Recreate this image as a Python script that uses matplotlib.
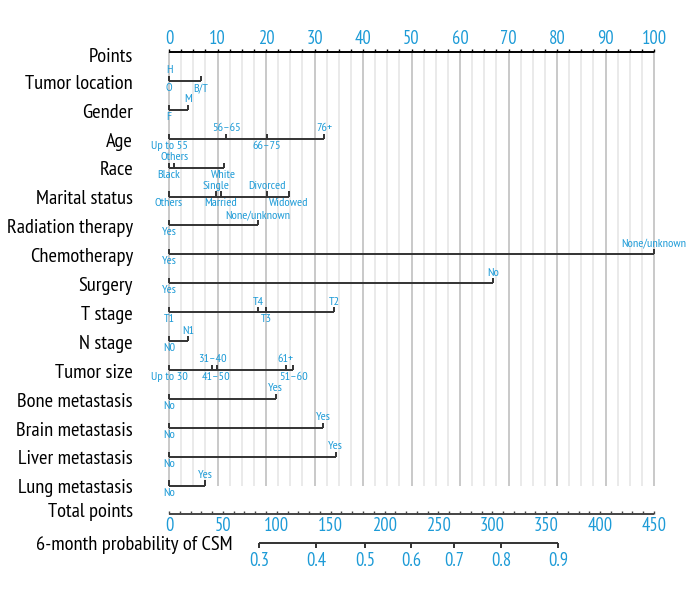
import numpy as np
import matplotlib.pyplot as plt
from matplotlib import font_manager as fm

# pick a condensed sans if one is installed
_names = {f.name for f in fm.fontManager.ttflist}
FONT = 'DejaVu Sans'
for cand in ['PT Sans Narrow', 'Fira Sans Condensed', 'Open Sans Condensed',
             'Roboto Condensed', 'Asap Condensed', 'Encode Sans Condensed',
             'Archivo Narrow', 'Liberation Sans Narrow']:
    if cand in _names:
        FONT = cand
        break
plt.rcParams['font.family'] = [FONT, 'DejaVu Sans']

# levels listed in order of increasing points
tumor_location = ['O', 'H', 'B/T']
tumor_location_pts = [0, 0, 6.6]
gender = ['F', 'M']
gender_pts = [0, 4.0]
age = ['Up to 55', '56\u201365', '66\u201375', '76+']
age_pts = [0, 11.8, 20.2, 32.0]
race = ['Black', 'Others', 'White']
race_pts = [0, 1.1, 11.3]
marital = ['Others', 'Single', 'Married', 'Divorced', 'Widowed']
marital_pts = [0, 9.7, 10.7, 20.2, 24.7]
radiation = ['Yes', 'None/unknown']
radiation_pts = [0, 18.4]
chemo = ['Yes', 'None/unknown']
chemo_pts = [0, 100]
surgery = ['Yes', 'No']
surgery_pts = [0, 66.8]
t_stage = ['T1', 'T4', 'T3', 'T2']
t_stage_pts = [0, 18.4, 20.0, 34.0]
n_stage = ['N0', 'N1']
n_stage_pts = [0, 3.9]
tumor_size = ['Up to 30', '31\u201340', '41\u201350', '61+', '51\u201360']
tumor_size_pts = [0, 8.9, 9.8, 24.1, 25.6]
bone = ['No', 'Yes']
bone_pts = [0, 22.0]
brain = ['No', 'Yes']
brain_pts = [0, 31.8]
liver = ['No', 'Yes']
liver_pts = [0, 34.4]
lung = ['No', 'Yes']
lung_pts = [0, 7.4]

total_ticks = [0, 50, 100, 150, 200, 250, 300, 350, 400, 450]
prob_labels = ['0.3', '0.4', '0.5', '0.6', '0.7', '0.8', '0.9']
prob_total = [83.5, 136.4, 181.9, 224.5, 264.4, 308.0, 361.0]

rows = [
    ('Tumor location', tumor_location, tumor_location_pts),
    ('Gender', gender, gender_pts),
    ('Age', age, age_pts),
    ('Race', race, race_pts),
    ('Marital status', marital, marital_pts),
    ('Radiation therapy', radiation, radiation_pts),
    ('Chemotherapy', chemo, chemo_pts),
    ('Surgery', surgery, surgery_pts),
    ('T stage', t_stage, t_stage_pts),
    ('N stage', n_stage, n_stage_pts),
    ('Tumor size', tumor_size, tumor_size_pts),
    ('Bone metastasis', bone, bone_pts),
    ('Brain metastasis', brain, brain_pts),
    ('Liver metastasis', liver, liver_pts),
    ('Lung metastasis', lung, lung_pts),
]

blue = '#1d9bd7'
dark = '#333333'
PX_X = 4.85   # pixels per point
PX_Y = 28.9   # pixels per row
px = 1 / PX_Y

fig = plt.figure(figsize=(7, 6), dpi=100)
renderer = fig.canvas.get_renderer()


def fit_size(s, width_px, base=10.0):
    t = fig.text(0, 0, s, fontsize=base)
    w = t.get_window_extent(renderer).width
    t.remove()
    return base * width_px / w


fs_name = min(fit_size('Radiation therapy', 126), 15.5)
fs_tick = min(fit_size('100', 25), 13.5)
fs_lev = min(fit_size('None/unknown', 65), 9)

ax = fig.add_axes([0, 0, 1, 1])
ax.set_xlim(-169 / PX_X, (700 - 169) / PX_X)
ax.set_ylim((600 - 52) / PX_Y, -52 / PX_Y)
ax.axis('off')

n_last = len(rows)
label_x = -36 / PX_X

# grid
for g in np.arange(0, 100.01, 2.5):
    major = abs(g % 10) < 1e-9
    ax.vlines(g, 0, n_last + 0.03, color='#c0c0c0' if major else '#e6e6e6',
              lw=1.2, zorder=0)

# points axis
ax.hlines(0, 0, 100, color='black', lw=1.4)
for t in np.arange(0, 100.01, 2.5):
    ax.vlines(t, 0, -3 * px, color='black', lw=1)
for t in range(0, 101, 10):
    ax.text(t, -13 * px, str(t), color=blue, fontsize=fs_tick, ha='center', va='center')
ax.text(label_x, 0.16, 'Points', fontsize=fs_name, ha='right', va='center')

# variable axes
for i, (name, levels, pts) in enumerate(rows, start=1):
    ax.hlines(i, 0, max(pts), color=dark, lw=1.4)
    for k, (lev, p) in enumerate(zip(levels, pts)):
        ax.vlines(p, i, i - 5 * px, color=dark, lw=1.4)
        if k % 2 == 0:
            ax.text(p, i + 2 * px, lev, color=blue, fontsize=fs_lev, ha='center', va='top')
        else:
            ax.text(p, i - 5.5 * px, lev, color=blue, fontsize=fs_lev, ha='center', va='bottom')
    ax.text(label_x, i + 0.1, name, fontsize=fs_name, ha='right', va='center')

# total points axis
r_tot = n_last + 1
ax.hlines(r_tot, 0, 100, color='#444444', lw=1.4)
for t in range(0, 451, 10):
    ax.vlines(t / 4.5, r_tot, r_tot - 3 * px, color='#444444', lw=1)
for t in total_ticks:
    ax.text(t / 4.5, r_tot + 12 * px, str(t), color=blue, fontsize=fs_tick,
            ha='center', va='center')
ax.text(label_x, r_tot - 0.07, 'Total points', fontsize=fs_name, ha='right', va='center')

# probability axis
r_prob = n_last + 2
ax.hlines(r_prob, prob_total[0] / 4.5, prob_total[-1] / 4.5, color=dark, lw=1.4)
for lab, t in zip(prob_labels, prob_total):
    ax.vlines(t / 4.5, r_prob, r_prob + 5 * px, color=dark, lw=1.4)
    ax.text(t / 4.5, r_prob + 18 * px, lab, color=blue, fontsize=fs_tick,
            ha='center', va='center')
ax.text(64 / PX_X, r_prob + 2 * px, '6-month probability of CSM', fontsize=fs_name,
        ha='right', va='center')

fig.savefig('out.png', dpi=100)
